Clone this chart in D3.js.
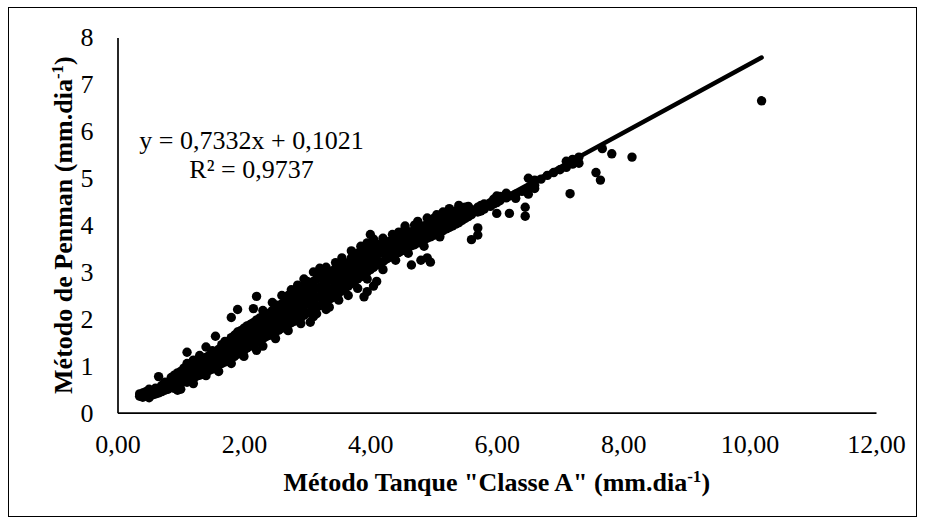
<!DOCTYPE html>
<html>
<head>
<meta charset="utf-8">
<script src="https://cdn.jsdelivr.net/npm/d3@7"></script>
<style>
  html, body { margin: 0; padding: 0; background: #fff; }
  svg { display: block; font-family: "Liberation Serif", "Times New Roman", serif; }
</style>
</head>
<body>
<div id="chart"></div>
<script>
// leituras: [ET tanque classe A, [ET Penman ...]]
const leituras = [
  [0.35, [0.35, 0.40]], [0.40, [0.33, 0.42]], [0.45, [0.36, 0.45]], [0.50, [0.32, 0.40, 0.50]],
  [0.55, [0.38, 0.47]], [0.60, [0.40, 0.52]], [0.65, [0.42, 0.50, 0.77]], [0.70, [0.45, 0.58]],
  [0.75, [0.48, 0.55, 0.65]], [0.80, [0.50, 0.62]], [0.85, [0.55, 0.66, 0.75]], [0.90, [0.52, 0.63, 0.80]],
  [0.95, [0.48, 0.60, 0.72, 0.85]], [1.00, [0.50, 0.62, 0.75, 0.88]], [1.05, [0.66, 0.80, 0.95]],
  [1.10, [0.65, 0.78, 0.92, 1.05, 1.29]], [1.15, [0.70, 0.85, 0.98]], [1.20, [0.62, 0.72, 0.88, 1.02, 1.12]],
  [1.25, [0.78, 0.92, 1.05]], [1.30, [0.80, 0.95, 1.10, 1.22]], [1.35, [0.82, 0.98, 1.12]],
  [1.40, [0.79, 0.95, 1.05, 1.18, 1.40]], [1.45, [0.90, 1.05, 1.22]], [1.50, [0.93, 1.08, 1.20, 1.32]],
  [1.55, [0.98, 1.12, 1.28, 1.63]], [1.60, [0.88, 1.05, 1.20, 1.35]], [1.65, [1.05, 1.18, 1.32, 1.45]],
  [1.70, [1.08, 1.22, 1.38, 1.52]], [1.75, [1.12, 1.28, 1.42]], [1.80, [1.05, 1.15, 1.30, 1.45, 1.60, 2.03]],
  [1.85, [1.20, 1.35, 1.50, 1.65]], [1.90, [1.25, 1.40, 1.55, 1.72, 2.20]], [1.95, [1.28, 1.45, 1.60, 1.75]],
  [2.00, [1.20, 1.32, 1.48, 1.62, 1.80]], [2.05, [1.38, 1.52, 1.68, 1.85]], [2.10, [1.42, 1.56, 1.72, 1.88]],
  [2.15, [1.45, 1.60, 1.78, 1.92, 2.22]], [2.20, [1.33, 1.50, 1.65, 1.82, 1.98, 2.48]],
  [2.25, [1.55, 1.70, 1.86, 2.02]], [2.30, [1.42, 1.58, 1.74, 1.90, 2.05, 2.18]], [2.35, [1.62, 1.78, 1.94, 2.08]],
  [2.40, [1.65, 1.82, 1.98, 2.12]], [2.45, [1.70, 1.86, 2.02, 2.18, 2.35]], [2.50, [1.58, 1.72, 1.90, 2.05, 2.22, 2.30]],
  [2.55, [1.76, 1.94, 2.10, 2.26]], [2.60, [1.80, 1.98, 2.15, 2.32, 2.50]], [2.65, [1.85, 2.02, 2.20, 2.38]],
  [2.70, [1.75, 1.88, 2.05, 2.24, 2.42, 2.50]], [2.75, [1.92, 2.10, 2.28, 2.46, 2.62]], [2.80, [1.95, 2.14, 2.32, 2.52]],
  [2.85, [1.98, 2.18, 2.36, 2.55, 2.72]], [2.90, [1.90, 2.02, 2.22, 2.40, 2.60, 2.68]], [2.95, [2.08, 2.28, 2.45, 2.65, 2.85]],
  [3.00, [2.12, 2.32, 2.50, 2.70, 2.80]], [3.05, [1.93, 2.15, 2.35, 2.55, 2.75]], [3.10, [2.05, 2.20, 2.40, 2.60, 2.80, 3.00]],
  [3.15, [2.11, 2.25, 2.45, 2.65, 2.85]], [3.20, [2.28, 2.48, 2.68, 2.88, 3.00, 3.08]], [3.25, [2.32, 2.52, 2.72, 2.92, 3.05]],
  [3.30, [2.20, 2.36, 2.56, 2.76, 2.95, 3.10]], [3.35, [2.25, 2.42, 2.62, 2.82, 3.00]], [3.40, [2.45, 2.65, 2.85, 3.02]],
  [3.45, [2.50, 2.70, 2.90, 3.08, 3.20]], [3.50, [2.40, 2.55, 2.75, 2.95, 3.10]], [3.55, [2.60, 2.80, 3.00, 3.12, 3.30]],
  [3.60, [2.65, 2.85, 3.05, 3.18]], [3.65, [2.50, 2.70, 2.90, 3.10, 3.20]], [3.70, [2.75, 2.95, 3.15, 3.30, 3.45]],
  [3.75, [2.80, 3.00, 3.20, 3.35]], [3.80, [2.65, 2.85, 3.05, 3.25, 3.40]], [3.85, [2.90, 3.10, 3.30, 3.45, 3.55]],
  [3.90, [2.47, 2.95, 3.15, 3.35, 3.50]], [3.95, [2.58, 2.85, 3.00, 3.20, 3.40, 3.52, 3.62]],
  [4.00, [3.05, 3.25, 3.45, 3.55, 3.80]], [4.05, [2.70, 3.10, 3.30, 3.48, 3.70]], [4.10, [2.80, 3.15, 3.35, 3.52, 3.60]],
  [4.15, [3.20, 3.40, 3.57]], [4.20, [3.05, 3.22, 3.42, 3.58, 3.72]], [4.25, [3.28, 3.45, 3.62]], [4.30, [3.32, 3.50, 3.65]],
  [4.35, [3.36, 3.52, 3.68, 3.80]], [4.40, [3.25, 3.40, 3.55, 3.70]], [4.45, [3.42, 3.58, 3.72, 3.85]], [4.50, [3.46, 3.62, 3.76]],
  [4.55, [3.50, 3.65, 3.80, 3.92, 3.98]], [4.60, [3.40, 3.52, 3.68, 3.82]], [4.65, [3.15, 3.56, 3.72, 3.86]],
  [4.70, [3.58, 3.74, 3.88, 4.00]], [4.75, [3.62, 3.78, 3.90, 4.08]], [4.80, [3.25, 3.65, 3.80, 3.94]],
  [4.85, [3.55, 3.68, 3.84, 3.98]], [4.90, [3.30, 3.72, 3.86, 4.02, 4.15]], [4.95, [3.21, 3.75, 3.90, 4.05]],
  [5.00, [3.78, 3.92, 4.08, 4.14]], [5.05, [3.82, 3.95, 4.10, 4.22]], [5.10, [3.75, 3.85, 3.98, 4.12]], [5.15, [3.88, 4.02, 4.15, 4.28]],
  [5.20, [3.92, 4.05, 4.18]], [5.25, [3.95, 4.10, 4.22, 4.35]], [5.30, [3.98, 4.12, 4.25]], [5.35, [4.02, 4.16, 4.30]],
  [5.40, [4.05, 4.20, 4.33, 4.42]], [5.45, [4.10, 4.25, 4.35]], [5.50, [4.14, 4.28, 4.38]], [5.55, [4.18, 4.30, 4.40]],
  [5.60, [3.69, 4.22, 4.33]], [5.70, [3.79, 3.94, 4.28, 4.38]], [5.75, [4.30, 4.42]], [5.80, [4.34, 4.45]],
  [5.90, [4.40, 4.48]], [5.95, [4.45, 4.55]], [6.00, [4.25, 4.48, 4.62]], [6.05, [4.52, 4.61]], [6.15, [4.58, 4.68]],
  [6.20, [4.25, 4.62]], [6.30, [4.57, 4.66]], [6.40, [4.72]], [6.45, [4.19, 4.38]], [6.50, [4.66, 4.78, 5.00]],
  [6.60, [4.78, 4.85, 4.96]], [6.70, [4.98]], [6.80, [5.06]], [6.90, [5.12]], [7.00, [5.18]], [7.10, [5.23, 5.36]],
  [7.16, [4.67]], [7.20, [5.30, 5.40]], [7.30, [5.32, 5.45]], [7.57, [5.12]], [7.64, [4.96]], [7.67, [5.63]],
  [7.82, [5.52]], [8.14, [5.45]], [10.19, [6.65]]
];

const inclinacao = 0.7332;
const intercepto = 0.1021;
const xTicks = [0, 2, 4, 6, 8, 10, 12];
const yTicks = [0, 1, 2, 3, 4, 5, 6, 7, 8];
const equacao = ["y = 0,7332x + 0,1021", "R² = 0,9737"];

const pontos = leituras.flatMap(([x, ys]) => ys.map(y => ({ x: x, y: y })));

const width = 925, height = 524;
const svg = d3.select("#chart").append("svg").attr("width", width).attr("height", height);

// moldura externa
svg.append("rect")
  .attr("x", 8.5).attr("y", 7.5)
  .attr("width", 908).attr("height", 509)
  .attr("fill", "none").attr("stroke", "#000").attr("stroke-width", 1);

const xScale = d3.scaleLinear().domain([0, 12]).range([117.5, 876]);
const yScale = d3.scaleLinear().domain([0, 8]).range([412.7, 37.5]);

const fmtX = d => d.toFixed(2).replace(".", ",");

svg.append("g")
  .attr("class", "x-axis")
  .attr("transform", `translate(0,${yScale(0)})`)
  .call(d3.axisBottom(xScale).tickValues(xTicks).tickSize(0).tickPadding(22).tickFormat(fmtX));

svg.append("g")
  .attr("class", "y-axis")
  .attr("transform", `translate(${xScale(0)},0)`)
  .call(d3.axisLeft(yScale).tickValues(yTicks).tickSize(0).tickPadding(24).tickFormat(d3.format("d")));

svg.selectAll(".domain").attr("stroke", "#000").attr("stroke-width", 1.7);
svg.selectAll(".tick text")
  .attr("fill", "#000")
  .style("font-family", "'Liberation Serif', 'Times New Roman', serif")
  .style("font-size", "26px");

// pontos
svg.append("g")
  .selectAll("circle")
  .data(pontos)
  .enter()
  .append("circle")
  .attr("cx", d => xScale(d.x))
  .attr("cy", d => yScale(d.y))
  .attr("r", 4.7)
  .attr("fill", "#000");

// linha de tendencia
const ext = d3.extent(pontos, d => d.x);
const tendencia = ext.map(x => ({ x: x, y: inclinacao * x + intercepto }));
svg.append("path")
  .datum(tendencia)
  .attr("d", d3.line().x(d => xScale(d.x)).y(d => yScale(d.y)))
  .attr("fill", "none")
  .attr("stroke", "#000")
  .attr("stroke-width", 4.5)
  .attr("stroke-linecap", "round");

// equacao
svg.append("g")
  .selectAll("text")
  .data(equacao)
  .enter()
  .append("text")
  .attr("x", 251.5)
  .attr("y", (d, i) => 149 + i * 28.5)
  .attr("text-anchor", "middle")
  .style("font-size", "26px")
  .attr("fill", "#000")
  .text(d => d);

// titulos dos eixos
const xTitle = svg.append("text")
  .attr("x", (xScale(0) + xScale(12)) / 2)
  .attr("y", 491)
  .attr("text-anchor", "middle")
  .style("font-size", "26px")
  .style("font-weight", "bold");
xTitle.append("tspan").text('Método Tanque "Classe A" (mm.dia');
xTitle.append("tspan").attr("baseline-shift", "super").style("font-size", "17px").text("-1");
xTitle.append("tspan").text(")");

const yTitle = svg.append("text")
  .attr("transform", `translate(72,${(yScale(0) + yScale(8)) / 2}) rotate(-90)`)
  .attr("text-anchor", "middle")
  .style("font-size", "26px")
  .style("font-weight", "bold");
yTitle.append("tspan").text("Método de Penman (mm.dia");
yTitle.append("tspan").attr("baseline-shift", "super").style("font-size", "17px").text("-1");
yTitle.append("tspan").text(")");
</script>
</body>
</html>
